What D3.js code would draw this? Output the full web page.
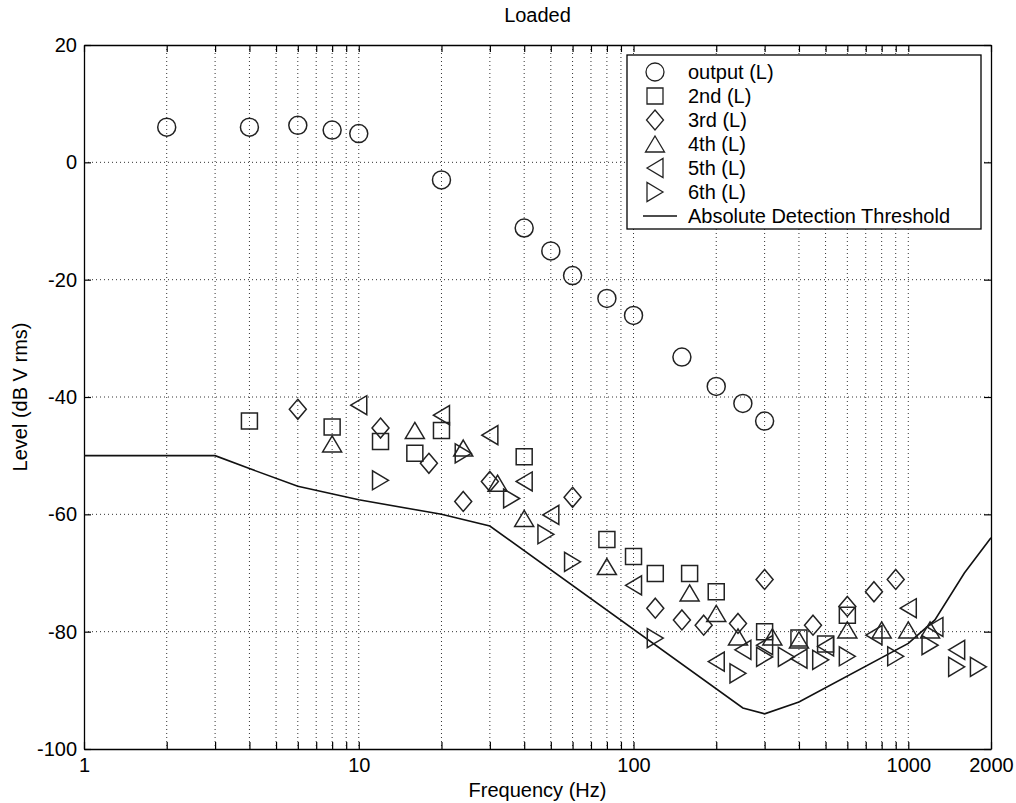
<!DOCTYPE html>
<html>
<head>
<meta charset="utf-8">
<script src="https://cdn.jsdelivr.net/npm/d3@7"></script>
<style>
body { margin: 0; background: #fff; }
text { font-family: "Liberation Sans", Arial, sans-serif; fill: #000; }
</style>
</head>
<body>
<svg width="1016" height="803"></svg>
<script>
// fundamental (output) and harmonics, frequency in Hz, level in dB V rms
var outFreq = [2, 4, 6, 8, 10, 20, 40, 50, 60, 80, 100, 150, 200, 250, 300];
var outLevel = [6, 6, 6.3, 5.5, 4.9, -3, -11.2, -15.1, -19.3, -23.2, -26.1, -33.2, -38.2, -41.1, -44.1];

var h2Freq = [4, 8, 12, 16, 20, 40, 80, 100, 120, 160, 200, 300, 400, 500, 600];
var h2Level = [-44.1, -45.1, -47.6, -49.6, -45.7, -50.2, -64.3, -67.2, -70.1, -70.1, -73.2, -80, -81.1, -82.1, -77.2];

var h3Freq = [6, 12, 18, 24, 30, 60, 120, 150, 180, 240, 300, 450, 600, 750, 900];
var h3Level = [-42.1, -45.3, -51.3, -57.8, -54.4, -57.1, -76, -78, -78.9, -78.6, -71.1, -78.9, -75.7, -73.2, -71.1];

var h4Freq = [8, 16, 24, 32, 40, 80, 160, 200, 240, 320, 400, 600, 800, 1000, 1200];
var h4Level = [-48, -45.7, -48.7, -54.7, -60.7, -68.9, -73.4, -76.9, -80.9, -80.9, -81.4, -79.7, -79.7, -79.7, -79.7];

var h5Freq = [10, 20, 30, 40, 50, 100, 200, 250, 300, 400, 500, 750, 1000, 1250, 1500];
var h5Level = [-41.4, -43.1, -46.5, -54.4, -60.1, -72.1, -85.1, -83.1, -82.3, -84.6, -82.5, -80.6, -76, -79.2, -83.1];

var h6Freq = [12, 24, 36, 48, 60, 120, 240, 300, 360, 480, 600, 900, 1200, 1500, 1800];
var h6Level = [-54.2, -49.6, -57.3, -63.4, -68.1, -81.1, -87.1, -84.3, -84.3, -84.8, -84.2, -84.2, -82.3, -86, -86];

// absolute detection threshold curve
var thrFreq = [1, 3, 4, 6, 10, 20, 30, 250, 300, 400, 1000, 1250, 1600, 2000];
var thrLevel = [-50, -50, -52.2, -55.2, -57.5, -60, -62, -93, -94, -92, -82, -78, -70, -64];

var seriesNames = ["output (L)", "2nd (L)", "3rd (L)", "4th (L)", "5th (L)", "6th (L)"];
var seriesShapes = ["circle", "square", "diamond", "up", "left", "right"];
var seriesFreqs = [outFreq, h2Freq, h3Freq, h4Freq, h5Freq, h6Freq];
var seriesLevels = [outLevel, h2Level, h3Level, h4Level, h5Level, h6Level];

var xTicks = [1,2,3,4,5,6,7,8,9,10,20,30,40,50,60,70,80,90,100,200,300,400,500,600,700,800,900,1000,2000];
var xLabels = [1, 10, 100, 1000, 2000];
var yTicks = [-100, -80, -60, -40, -20, 0, 20];

const svg = d3.select("svg");
const pLeft = 84, pRight = 991, pTop = 45, pBottom = 749;
const fontSize = 20;

const x = d3.scaleLog().domain([1, 2000]).range([pLeft, pRight]);
const y = d3.scaleLinear().domain([-100, 20]).range([pBottom, pTop]);

// dotted grid
const grid = svg.append("g");
grid.selectAll("line.gx")
    .data(xTicks.filter(d => d > 1 && d < 2000))
    .enter().append("line")
    .attr("x1", d => x(d)).attr("x2", d => x(d))
    .attr("y1", pTop).attr("y2", pBottom)
    .attr("stroke", "#333").attr("stroke-width", 1)
    .attr("stroke-dasharray", "1,3");
grid.selectAll("line.gy")
    .data(yTicks.filter(d => d > -100 && d < 20))
    .enter().append("line")
    .attr("x1", pLeft).attr("x2", pRight)
    .attr("y1", d => y(d)).attr("y2", d => y(d))
    .attr("stroke", "#333").attr("stroke-width", 1)
    .attr("stroke-dasharray", "1,3");

// axes with inward ticks
const fmtX = d => xLabels.indexOf(d) >= 0 ? String(d) : "";
const axB = svg.append("g").attr("transform", `translate(0,${pBottom})`)
    .call(d3.axisBottom(x).tickValues(xTicks).tickFormat(fmtX).tickSizeInner(-7).tickSizeOuter(0).tickPadding(9));
const axT = svg.append("g").attr("transform", `translate(0,${pTop})`)
    .call(d3.axisTop(x).tickValues(xTicks).tickFormat("").tickSizeInner(-7).tickSizeOuter(0));
const axL = svg.append("g").attr("transform", `translate(${pLeft},0)`)
    .call(d3.axisLeft(y).tickValues(yTicks).tickFormat(d => String(d)).tickSizeInner(-7).tickSizeOuter(0).tickPadding(7));
const axR = svg.append("g").attr("transform", `translate(${pRight},0)`)
    .call(d3.axisRight(y).tickValues(yTicks).tickFormat("").tickSizeInner(-7).tickSizeOuter(0));

[axB, axT, axL, axR].forEach(a => {
    a.select(".domain").attr("stroke", "#000").attr("stroke-width", 1.3);
    a.selectAll(".tick line").attr("stroke", "#000").attr("stroke-width", 1.2);
    a.selectAll("text").attr("font-size", fontSize).attr("font-family", "Liberation Sans, Arial, sans-serif").attr("fill", "#000");
});

// threshold line
const thr = thrFreq.map((f, i) => [f, thrLevel[i]]);
svg.append("path")
    .datum(thr)
    .attr("d", d3.line().x(d => x(d[0])).y(d => y(d[1])))
    .attr("fill", "none").attr("stroke", "#111").attr("stroke-width", 1.6);

// marker shapes
function shapePath(s) {
    if (s === "square") return "M-8,-8L8,-8L8,8L-8,8Z";
    if (s === "diamond") return "M0,-10L8.5,0L0,10L-8.5,0Z";
    if (s === "up") return "M0,-8L9.5,8L-9.5,8Z";
    if (s === "left") return "M-8,0L8,-9.5L8,9.5Z";
    if (s === "right") return "M8,0L-8,-9.5L-8,9.5Z";
    return "";
}

function drawMarker(g, s) {
    if (s === "circle") {
        g.append("circle").attr("r", 9);
    } else {
        g.append("path").attr("d", shapePath(s));
    }
}

seriesNames.forEach((name, k) => {
    const pts = seriesFreqs[k].map((f, i) => [f, seriesLevels[k][i]]);
    const g = svg.append("g").attr("fill", "none").attr("stroke", "#222").attr("stroke-width", 1.5);
    g.selectAll("g").data(pts).enter().append("g")
        .attr("transform", d => `translate(${x(d[0])},${y(d[1])})`)
        .each(function () { drawMarker(d3.select(this), seriesShapes[k]); });
});

// legend
const lg = svg.append("g");
lg.append("rect").attr("x", 627).attr("y", 55).attr("width", 354).attr("height", 174)
    .attr("fill", "#fff").attr("stroke", "#000").attr("stroke-width", 1.3);
const legendNames = seriesNames.concat(["Absolute Detection Threshold"]);
legendNames.forEach((name, i) => {
    const ry = 72 + i * 24;
    if (i < seriesShapes.length) {
        const m = lg.append("g").attr("transform", `translate(655,${ry})`)
            .attr("fill", "none").attr("stroke", "#222").attr("stroke-width", 1.3);
        drawMarker(m, seriesShapes[i]);
    } else {
        lg.append("line").attr("x1", 643).attr("x2", 677).attr("y1", ry).attr("y2", ry)
            .attr("stroke", "#111").attr("stroke-width", 1.5);
    }
    lg.append("text").attr("x", 688).attr("y", ry).attr("dy", "0.35em")
        .attr("font-size", fontSize).text(name);
});

// titles
svg.append("text").attr("x", (pLeft + pRight) / 2).attr("y", 22)
    .attr("text-anchor", "middle").attr("font-size", fontSize).text("Loaded");
svg.append("text").attr("x", (pLeft + pRight) / 2).attr("y", 797)
    .attr("text-anchor", "middle").attr("font-size", fontSize).text("Frequency (Hz)");
svg.append("text").attr("transform", `translate(27,${(pTop + pBottom) / 2}) rotate(-90)`)
    .attr("text-anchor", "middle").attr("font-size", fontSize).text("Level (dB V rms)");
</script>
</body>
</html>
